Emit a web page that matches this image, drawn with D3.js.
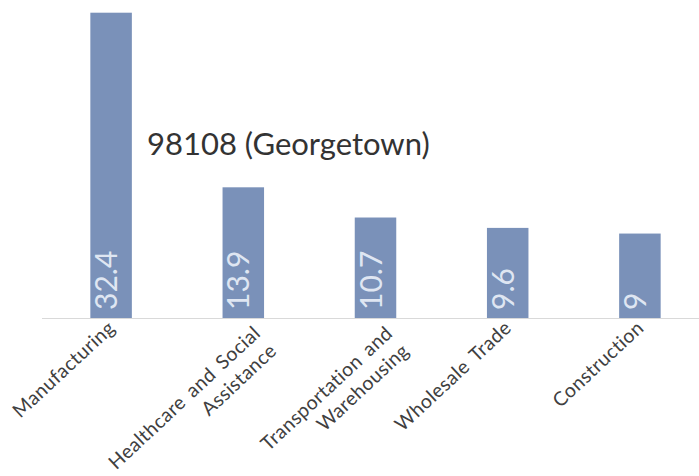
<!DOCTYPE html>
<html>
<head>
<meta charset="utf-8">
<script src="https://cdn.jsdelivr.net/npm/d3@7"></script>
<style>
  body { margin: 0; background: #fff; }
  text { font-family: Lato, "Open Sans", sans-serif; }
</style>
</head>
<body>
<div id="chart"></div>
<script>
// Top industries by share of jobs, 98108 (Georgetown)

const categories = ["Manufacturing", "Healthcare and Social Assistance", "Transportation and Warehousing", "Wholesale Trade", "Construction"];
const labelLines = [["Manufacturing"], ["Healthcare and Social", "Assistance"], ["Transportation and", "Warehousing"], ["Wholesale Trade"], ["Construction"]];
const values = [32.4, 13.9, 10.7, 9.6, 9];
const valueLabels = ["32.4", "13.9", "10.7", "9.6", "9"];
const title = "98108 (Georgetown)";

const width = 699, height = 476;
const baseY = 318.5;

const svg = d3.select("#chart")
    .append("svg")
    .attr("width", width)
    .attr("height", height);

// Scales
const x = d3.scaleBand()
    .domain(categories)
    .range([45, 706])
    .paddingInner(0.686)
    .paddingOuter(0.343);

const y = d3.scaleLinear()
    .domain([0, 32.4])
    .range([baseY, 12.7]);

const data = categories.map((c, i) => ({cat: c, value: values[i], label: valueLabels[i], lines: labelLines[i]}));

// Bars
svg.selectAll("rect.bar")
    .data(data)
    .enter()
    .append("rect")
    .attr("class", "bar")
    .attr("x", d => x(d.cat))
    .attr("y", d => y(d.value))
    .attr("width", x.bandwidth())
    .attr("height", d => y(0) - y(d.value))
    .attr("fill", "#7a91b9");

// Baseline
svg.append("line")
    .attr("x1", 42)
    .attr("x2", width)
    .attr("y1", y(0))
    .attr("y2", y(0))
    .attr("stroke", "#d9d9d9")
    .attr("stroke-width", 1);

// Value labels inside bars, rotated
svg.selectAll("text.val")
    .data(data)
    .enter()
    .append("text")
    .attr("class", "val")
    .attr("transform", d => `translate(${x(d.cat) + x.bandwidth() / 2 + 6},${y(0) - 8.5}) rotate(-90)`)
    .attr("text-anchor", "start")
    .attr("font-size", 30)
    .attr("fill", "#dfe6f2")
    .text(d => d.label);

// Category labels, rotated
const lab = svg.selectAll("g.cat")
    .data(data)
    .enter()
    .append("g")
    .attr("class", "cat")
    .attr("transform", d => `translate(${x(d.cat) + x.bandwidth() / 2 + 5},${y(0) + 11}) rotate(-43)`);

lab.each(function(d) {
    const n = d.lines.length;
    d3.select(this).selectAll("text")
        .data(d.lines)
        .enter()
        .append("text")
        .attr("x", n > 1 ? 6 : 0)
        .attr("y", (t, i) => (n > 1 ? 13 : 0) + i * 24)
        .attr("text-anchor", "end")
        .attr("font-size", 19.5)
        .attr("letter-spacing", 0.4)
        .attr("word-spacing", 3)
        .attr("fill", "#404040")
        .text(t => t);
});

// Title
svg.append("text")
    .attr("x", 147)
    .attr("y", 155)
    .attr("font-size", 31)
    .attr("fill", "#333")
    .text(title);
</script>
</body>
</html>
